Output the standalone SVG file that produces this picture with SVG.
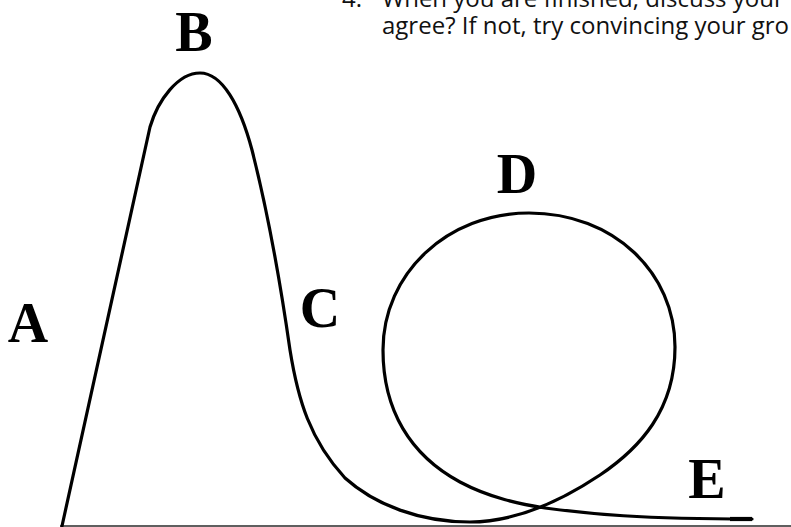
<svg xmlns="http://www.w3.org/2000/svg" width="791" height="527" viewBox="0 0 791 527">
  <style>
    .track { fill: none; stroke: #000; stroke-width: 3.2; stroke-linecap: round; stroke-linejoin: round; }
    .ground { fill: none; stroke: #2a2a2a; stroke-width: 1.6; }
    .lbl { font-family: "Liberation Serif", "Times New Roman", serif; font-size: 56px; font-weight: bold; fill: #000; text-anchor: middle; }
    .body { font-family: "Open Sans", "Noto Sans", sans-serif; font-size: 24px; fill: #111; }
  </style>
  <rect width="791" height="527" fill="#fff"/>
  <g id="instructions">
    <text class="body" x="342" y="7">4.</text>
    <text class="body" x="382" y="7">When you are finished, discuss your lo</text>
    <text class="body" x="382" y="34">agree? If not, try convincing your gro</text>
  </g>
  <g id="ground">
    <line class="ground" x1="60" y1="526" x2="791" y2="526"/>
  </g>
  <g id="track">
    <path class="track" d="M 62 526 L 150 127 C 158 100 178 73 200 73 C 222 73 240 105 252 150 C 266 205 280 280 290 350 C 298 400 310 440 345 478 C 375 505 420 522 470 522 C 510 522 555 505 600 475 C 640 448 675 410 675 347 C 675 273 614 213 529 213 C 448 213 383 273 383 350 C 383 410 410 455 460 482 C 490 498 520 504 545 508 C 590 514 640 519 752 519"/>
    <line x1="730" y1="519" x2="752" y2="519" stroke="#000" stroke-width="4.2"/>
  </g>
  <g id="label-A"><text class="lbl" x="28" y="342">A</text></g>
  <g id="label-B"><text class="lbl" x="194" y="51">B</text></g>
  <g id="label-C"><text class="lbl" x="320" y="327">C</text></g>
  <g id="label-D"><text class="lbl" x="517" y="193">D</text></g>
  <g id="label-E"><text class="lbl" x="707" y="498">E</text></g>
</svg>
